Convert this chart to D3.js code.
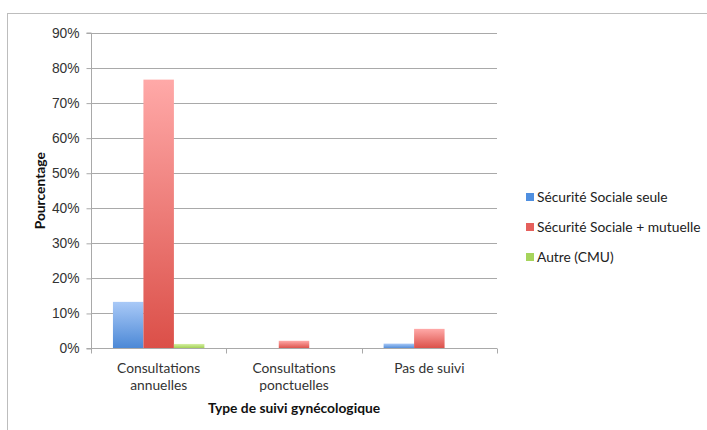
<!DOCTYPE html>
<html>
<head>
<meta charset="utf-8">
<script src="https://cdn.jsdelivr.net/npm/d3@7"></script>
<style>
  html, body { margin: 0; padding: 0; background: #fff; }
  svg { display: block; font-family: Lato, "Open Sans", "Liberation Sans", sans-serif; }
</style>
</head>
<body>
<svg id="chart" width="707" height="430"></svg>
<script>
// Categories and series (percentages)
const categories = [["Consultations", "annuelles"], ["Consultations", "ponctuelles"], ["Pas de suivi"]];
const seriesNames = ["Sécurité Sociale seule", "Sécurité Sociale + mutuelle", "Autre (CMU)"];
const secuSeule = [13.3, 0, 1.4];
const secuMutuelle = [76.7, 2.2, 5.6];
const autreCMU = [1.3, 0, 0];
const yTicks = [0, 10, 20, 30, 40, 50, 60, 70, 80, 90];

const seriesValues = [secuSeule, secuMutuelle, autreCMU];
const gradStops = [
  ["#a9c9f7", "#4b88d6"],
  ["#ffa9a8", "#db4f48"],
  ["#d6f0a4", "#9ccd4c"]
];
const legendColors = ["#4f8fe0", "#e5605c", "#a6d45c"];

const svg = d3.select("#chart");
const x0 = 91, x1 = 497, yTop = 33, yBot = 348.5;
const fs = "13.8px";

// Outer frame
svg.append("rect")
  .attr("x", 7.5).attr("y", 13.5)
  .attr("width", 720).attr("height", 440)
  .attr("fill", "none").attr("stroke", "#bdbdbd").attr("stroke-width", 1);

const defs = svg.append("defs");
gradStops.forEach((g, i) => {
  const lg = defs.append("linearGradient").attr("id", "g" + i)
    .attr("x1", 0).attr("y1", 0).attr("x2", 0).attr("y2", 1);
  lg.append("stop").attr("offset", "0%").attr("stop-color", g[0]);
  lg.append("stop").attr("offset", "100%").attr("stop-color", g[1]);
});

const y = d3.scaleLinear().domain([0, 90]).range([yBot, yTop]);
const x = d3.scaleBand().domain(d3.range(categories.length)).range([x0, x1]).paddingInner(0).paddingOuter(0);
const xs = d3.scaleBand().domain(d3.range(seriesNames.length)).range([0, x.bandwidth()]).paddingInner(0).paddingOuter(0.72);

// Gridlines
svg.append("g").selectAll("line").data(yTicks.filter(t => t > 0)).join("line")
  .attr("x1", x0).attr("x2", x1)
  .attr("y1", d => Math.round(y(d)) + 0.5).attr("y2", d => Math.round(y(d)) + 0.5)
  .attr("stroke", "#a9a9a9").attr("stroke-width", 1);

// Bars
seriesValues.forEach((vals, si) => {
  svg.append("g").selectAll("rect").data(vals).join("rect")
    .attr("x", (d, i) => x(i) + xs(si))
    .attr("width", xs.bandwidth())
    .attr("y", d => y(d))
    .attr("height", d => yBot - y(d))
    .attr("fill", "url(#g" + si + ")");
});

// Y axis
const yAxis = d3.axisLeft(y).tickValues(yTicks).tickSize(5).tickFormat(d => d + "%").tickPadding(7);
const gy = svg.append("g").attr("transform", `translate(${x0 + 0.5},0)`).call(yAxis);
gy.select(".domain").attr("stroke", "#a9a9a9").attr("d", `M-5,${y(90)}H0V${yBot}H-5`);
gy.selectAll(".tick line").attr("stroke", "#a9a9a9");
gy.selectAll(".tick text").attr("fill", "#333").style("font-size", fs);

// X axis baseline and category ticks
const gx = svg.append("g");
gx.append("line").attr("x1", x0).attr("x2", x1).attr("y1", yBot).attr("y2", yBot)
  .attr("stroke", "#a9a9a9");
gx.selectAll("line.tk").data(d3.range(categories.length + 1)).join("line")
  .attr("class", "tk")
  .attr("x1", i => Math.round(x0 + i * x.bandwidth()) + 0.5)
  .attr("x2", i => Math.round(x0 + i * x.bandwidth()) + 0.5)
  .attr("y1", yBot).attr("y2", yBot + 5)
  .attr("stroke", "#a9a9a9");

// Category labels
categories.forEach((lines, i) => {
  const cx = x(i) + x.bandwidth() / 2;
  const t = svg.append("text")
    .attr("x", cx).attr("y", 373)
    .attr("text-anchor", "middle")
    .attr("fill", "#333").style("font-size", fs);
  lines.forEach((l, k) => t.append("tspan").attr("x", cx).attr("dy", k === 0 ? 0 : 17).text(l));
});

// Axis titles
svg.append("text").attr("x", (x0 + x1) / 2).attr("y", 413)
  .attr("text-anchor", "middle").attr("fill", "#111")
  .style("font-size", fs).style("font-weight", "bold")
  .text("Type de suivi gynécologique");
svg.append("text").attr("transform", `translate(45,${(yTop + yBot) / 2}) rotate(-90)`)
  .attr("text-anchor", "middle").attr("fill", "#111")
  .style("font-size", fs).style("font-weight", "bold")
  .text("Pourcentage");

// Legend
const lg = svg.append("g").attr("transform", "translate(526,193)");
seriesNames.forEach((n, i) => {
  lg.append("rect").attr("x", 0).attr("y", i * 30).attr("width", 8).attr("height", 8)
    .attr("fill", legendColors[i]);
  lg.append("text").attr("x", 11).attr("y", i * 30 + 8.5)
    .attr("fill", "#222").style("font-size", fs).text(n);
});
</script>
</body>
</html>
